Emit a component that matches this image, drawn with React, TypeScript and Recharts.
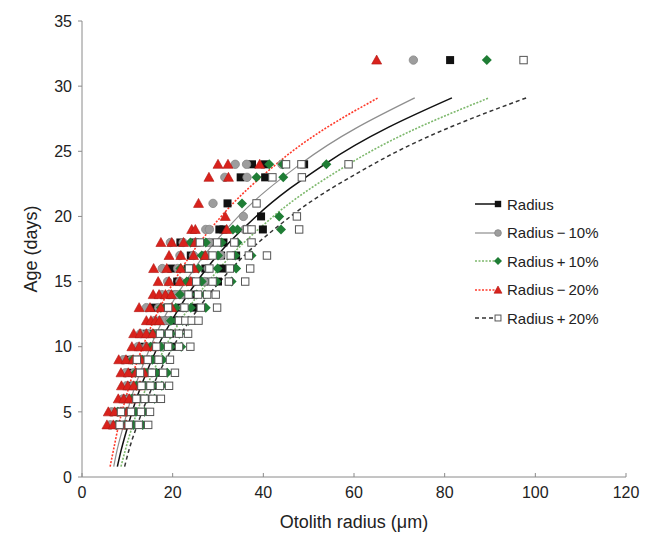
import { ComposedChart, Scatter, Line, XAxis, YAxis, Legend } from 'recharts';

// ages (days) of the measured rings; each row below holds the radii read at that age
const ages = [4, 5, 6, 7, 8, 9, 10, 11, 12, 13, 14, 15, 16, 17, 18, 19, 20, 21, 23, 24, 32];

const radius = [
  [6.9, 8.6, 10.4, 12.2], [7.2, 9.0, 10.8, 12.5], [10.0, 11.5, 13.0, 14.5], [10.9, 12.6, 14.3, 16.0],
  [10.7, 12.8, 14.9, 17.1], [10.1, 12.1, 14.1, 16.2], [13.7, 15.8, 17.8, 19.9], [14.3, 16.0, 17.8, 19.5],
  [17.8, 19.0, 20.2, 21.4], [15.8, 18.8, 21.8, 24.8], [19.6, 21.3, 23.0, 24.6], [21.0, 24.0, 27.0, 30.0],
  [19.7, 23.4, 27.2, 30.9], [24.0, 27.3, 30.7, 34.0], [21.7, 24.8, 28.0, 31.2], [30.3, 31.2, 39.9],
  [39.5], [32.1], [35.0, 40.4], [37.5, 40.3, 49.0], [81.2],
];

const radiusMinus10 = [
  [6.2, 7.7, 9.4, 11.0], [6.5, 8.1, 9.7, 11.3], [9.0, 10.4, 11.7, 13.1], [9.8, 11.3, 12.9, 14.4],
  [9.6, 11.5, 13.4, 15.4], [9.1, 10.9, 12.7, 14.6], [12.3, 14.2, 16.0, 17.9], [12.9, 14.4, 16.0, 17.6],
  [16.0, 17.1, 18.2, 19.3], [14.2, 16.9, 19.6, 22.3], [17.6, 19.2, 20.7, 22.1], [18.9, 21.6, 24.3, 27.0],
  [17.7, 21.1, 24.5, 27.8], [21.6, 24.6, 27.6, 30.6], [19.5, 22.3, 25.2, 28.1], [27.3, 28.1, 35.9],
  [35.6], [28.9], [31.5, 36.4], [33.8, 36.3, 44.1], [73.1],
];

const radiusPlus10 = [
  [7.6, 9.5, 11.4, 13.4], [7.9, 9.9, 11.9, 13.8], [11.0, 12.7, 14.3, 16.0], [12.0, 13.9, 15.7, 17.6],
  [11.8, 14.1, 16.4, 18.8], [11.1, 13.3, 15.5, 17.8], [15.1, 17.4, 19.6, 21.9], [15.7, 17.6, 19.6, 21.5],
  [19.6, 20.9, 22.2, 23.5], [17.4, 20.7, 24.0, 27.3], [21.6, 23.4, 25.3, 27.1], [23.1, 26.4, 29.7, 33.0],
  [21.7, 25.7, 29.9, 34.0], [26.4, 30.0, 33.8, 37.4], [23.9, 27.3, 30.8, 34.3], [33.3, 34.3, 43.9],
  [43.5], [35.3], [38.5, 44.4], [41.3, 44.3, 53.9], [89.3],
];

const radiusMinus20 = [
  [5.5, 6.9, 8.3, 9.8], [5.8, 7.2, 8.6, 10.0], [8.0, 9.2, 10.4, 11.6], [8.7, 10.1, 11.4, 12.8],
  [8.6, 10.2, 11.9, 13.7], [8.1, 9.7, 11.3, 13.0], [11.0, 12.6, 14.2, 15.9], [11.4, 12.8, 14.2, 15.6],
  [14.2, 15.2, 16.2, 17.1], [12.6, 15.0, 17.4, 19.8], [15.7, 17.0, 18.4, 19.7], [16.8, 19.2, 21.6, 24.0],
  [15.8, 18.7, 21.8, 24.7], [19.2, 21.8, 24.6, 27.2], [17.4, 19.8, 22.4, 25.0], [24.2, 25.0, 31.9],
  [31.6], [25.7], [28.0, 32.3], [30.0, 32.2, 39.2], [65.0],
];

const radiusPlus20 = [
  [8.3, 10.3, 12.5, 14.6], [8.6, 10.8, 13.0, 15.0], [12.0, 13.8, 15.6, 17.4], [13.1, 15.1, 17.2, 19.2],
  [12.8, 15.4, 17.9, 20.5], [12.1, 14.5, 16.9, 19.4], [16.4, 19.0, 21.4, 23.9], [17.2, 19.2, 21.4, 23.4],
  [21.4, 22.8, 24.2, 25.7], [19.0, 22.6, 26.2, 29.8], [23.5, 25.6, 27.6, 29.5], [25.2, 28.8, 32.4, 36.0],
  [23.6, 28.1, 32.6, 37.1], [28.8, 32.8, 36.8, 40.8], [26.0, 29.8, 33.6, 37.4], [36.4, 37.4, 47.9],
  [47.4], [38.5], [42.0, 48.5], [45.0, 48.4, 58.8], [97.4],
];

// fitted growth curves
const curveAges = [0.8, 2, 4, 6, 8, 10, 13, 16, 20, 24, 29.1];
const curveRadius = [7.8, 8.6, 10.2, 12.0, 14.2, 16.7, 21.5, 27.5, 38.4, 53.5, 81.6];
const curveMinus10 = [7.0, 7.7, 9.2, 10.8, 12.8, 15.1, 19.3, 24.8, 34.5, 48.1, 73.4];
const curvePlus10 = [8.6, 9.5, 11.2, 13.2, 15.6, 18.4, 23.6, 30.3, 42.2, 58.8, 89.8];
const curveMinus20 = [6.2, 6.9, 8.1, 9.6, 11.3, 13.4, 17.2, 22.0, 30.7, 42.8, 65.3];
const curvePlus20 = [9.4, 10.3, 12.2, 14.4, 17.0, 20.1, 25.8, 33.0, 46.0, 64.2, 98.0];

const xTicks = [0, 20, 40, 60, 80, 100, 120];
const yTicks = [0, 5, 10, 15, 20, 25, 30, 35];

const toPoints = (rows: number[][]) => rows.flatMap((row, i) => row.map((r) => ({ x: r, y: ages[i] })));
const toCurve = (xs: number[]) => xs.map((x, i) => ({ x, y: curveAges[i] }));

type Mark = (p: { cx: number; cy: number; s?: number }) => JSX.Element;

const blackSquare: Mark = ({ cx, cy, s = 1 }) => (
  <rect x={cx - 4 * s} y={cy - 4 * s} width={8 * s} height={8 * s} fill="#111" />
);
const greyCircle: Mark = ({ cx, cy, s = 1 }) => (
  <circle cx={cx} cy={cy} r={4.2 * s} fill="#9d9d9d" stroke="#858585" strokeWidth={0.8} />
);
const greenDiamond: Mark = ({ cx, cy, s = 1 }) => (
  <polygon
    points={`${cx},${cy - 5 * s} ${cx + 5 * s},${cy} ${cx},${cy + 5 * s} ${cx - 5 * s},${cy}`}
    fill="#1f7d35"
  />
);
const redTriangle: Mark = ({ cx, cy, s = 1 }) => (
  <polygon
    points={`${cx},${cy - 5 * s} ${cx + 5 * s},${cy + 4 * s} ${cx - 5 * s},${cy + 4 * s}`}
    fill="#d9221c"
    stroke="#b01512"
    strokeWidth={0.6}
  />
);
const openSquare: Mark = ({ cx, cy, s = 1 }) => (
  <rect x={cx - 3.7 * s} y={cy - 3.7 * s} width={7.4 * s} height={7.4 * s} fill="#fff" stroke="#555" strokeWidth={1} />
);

const series = [
  { name: 'Radius', pts: radius, curve: curveRadius, mark: blackSquare, stroke: '#111', width: 1.5, dash: undefined },
  { name: 'Radius\u2009\u2212\u200910%', pts: radiusMinus10, curve: curveMinus10, mark: greyCircle, stroke: '#8e8e8e', width: 1.2, dash: undefined },
  { name: 'Radius\u2009+\u200910%', pts: radiusPlus10, curve: curvePlus10, mark: greenDiamond, stroke: '#7db86c', width: 1.6, dash: '2 1.5' },
  { name: 'Radius\u2009\u2212\u200920%', pts: radiusMinus20, curve: curveMinus20, mark: redTriangle, stroke: '#ff3a2a', width: 1.6, dash: '2 1.5' },
  { name: 'Radius\u2009+\u200920%', pts: radiusPlus20, curve: curvePlus20, mark: openSquare, stroke: '#333', width: 1.5, dash: '4 3' },
];

const axisText = { fill: '#222', fontSize: 16 };

function LegendBox() {
  return (
    <div style={{ fontSize: 15, color: '#222' }}>
      {series.map((s) => (
        <div key={s.name} style={{ display: 'flex', alignItems: 'center', height: 28.5 }}>
          <svg width={30} height={12} style={{ marginRight: 3 }}>
            <line x1={1} y1={6} x2={24} y2={6} stroke={s.stroke} strokeWidth={s.width} strokeDasharray={s.dash} />
            {s.mark({ cx: 24, cy: 6, s: 0.8 })}
          </svg>
          <span>{s.name}</span>
        </div>
      ))}
    </div>
  );
}

export default function App() {
  return (
    <div style={{ width: 632, height: 529, fontFamily: "'Liberation Sans', Arial, sans-serif" }}>
      <ComposedChart width={632} height={529} margin={{ top: 13, right: 14, bottom: 8, left: 0 }}>
        <XAxis
          type="number"
          dataKey="x"
          domain={[0, 120]}
          ticks={xTicks}
          height={52}
          stroke="#8a8a8a"
          tick={axisText}
          tickSize={-4}
          tickMargin={14}
          label={{ value: 'Otolith radius (\u03bcm)', position: 'insideBottom', offset: 1, fill: '#222', fontSize: 18 }}
        />
        <YAxis
          type="number"
          domain={[0, 35]}
          ticks={yTicks}
          width={74}
          stroke="#8a8a8a"
          tick={axisText}
          tickSize={4}
          tickMargin={6}
          label={(p: any) => {
            const vb = p.viewBox || { y: 13, height: 456 };
            const cy = vb.y + vb.height / 2;
            return (
              <text x={24} y={cy} transform={`rotate(-90 24 ${cy})`} textAnchor="middle" dominantBaseline="middle" fill="#222" fontSize={18}>
                Age (days)
              </text>
            );
          }}
        />
        {series.map((s) => (
          <Scatter
            key={s.name}
            name={s.name}
            data={toPoints(s.pts)}
            dataKey="y"
            shape={(p: any) => s.mark({ cx: p.cx, cy: p.cy })}
            isAnimationActive={false}
          />
        ))}
        {series.map((s) => (
          <Line
            key={'c' + s.name}
            data={toCurve(s.curve)}
            dataKey="y"
            type="monotone"
            stroke={s.stroke}
            strokeWidth={s.width}
            strokeDasharray={s.dash}
            dot={false}
            activeDot={false}
            legendType="none"
            isAnimationActive={false}
          />
        ))}
        <Legend
          layout="vertical"
          align="center"
          verticalAlign="middle"
          content={() => <LegendBox />}
          wrapperStyle={{ position: 'absolute', left: 466, top: 182, width: 160 }}
        />
      </ComposedChart>
    </div>
  );
}
